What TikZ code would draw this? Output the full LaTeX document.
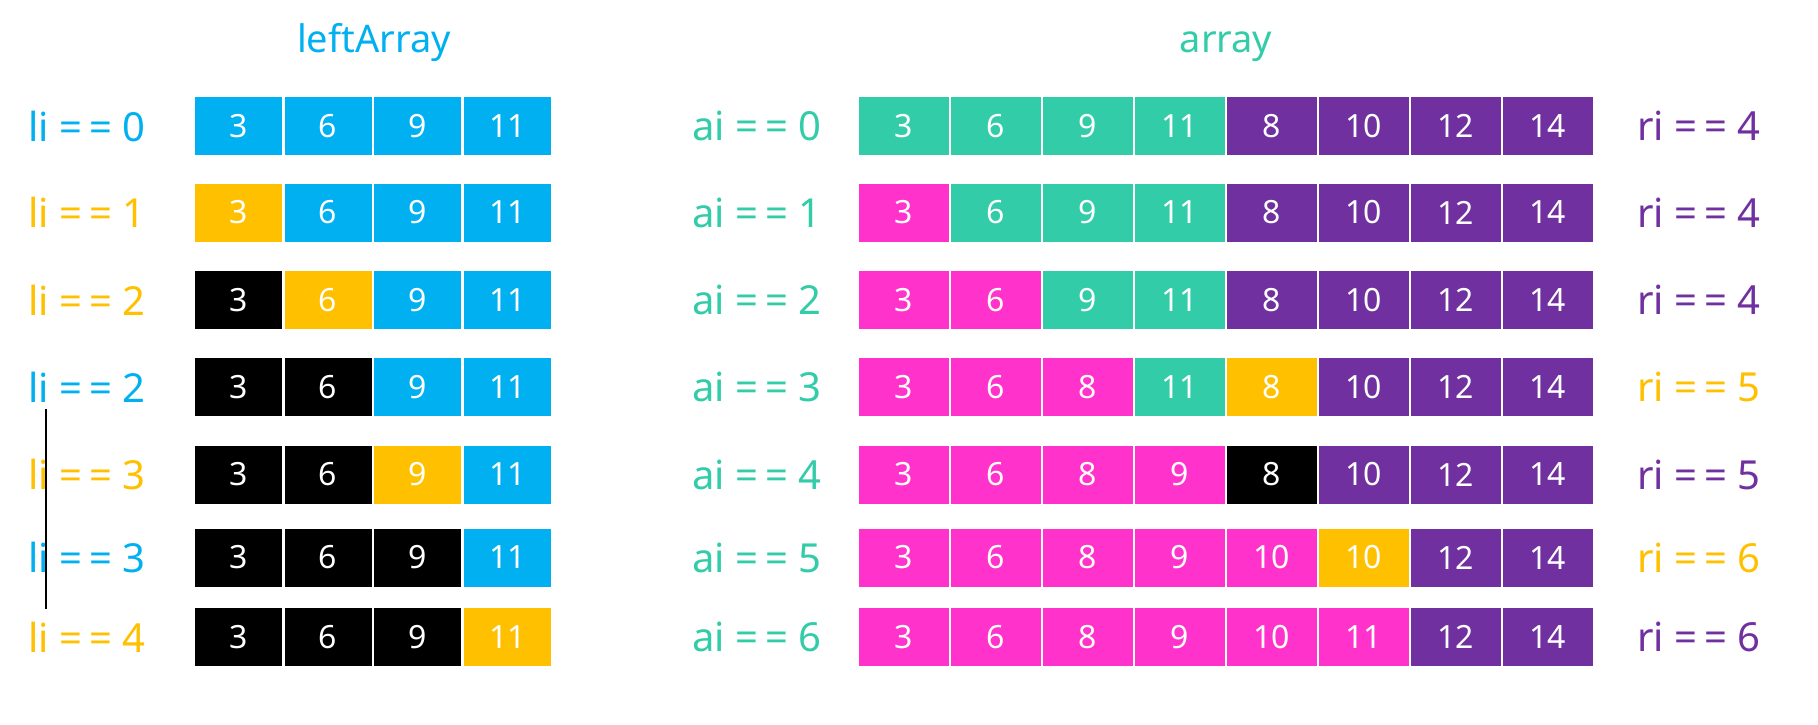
\documentclass[tikz,border=0pt]{standalone}
\usepackage{fontspec}
\setmainfont{Noto Sans}
\definecolor{cblue}{HTML}{00B0F0}
\definecolor{cgold}{HTML}{FFC000}
\definecolor{cteal}{HTML}{33CCA8}
\definecolor{cmag}{HTML}{FF33CC}
\definecolor{cpur}{HTML}{7030A0}
\definecolor{cblk}{HTML}{000000}
\tikzset{
  cellL/.style={minimum width=87pt, minimum height=58pt, inner sep=0pt, text=white, font=\fontsize{32}{32}\selectfont},
  cellR/.style={minimum width=89.5pt, minimum height=58pt, inner sep=0pt, text=white, font=\fontsize{32}{32}\selectfont},
  lab/.style={inner sep=0pt, anchor=west, font=\fontsize{40}{40}\selectfont},
  ttl/.style={inner sep=0pt, anchor=base, font=\fontsize{38}{38}\selectfont},
}
\newcommand\myeq{=\kern7pt=}
\newcommand\mkLrow[3]{%
  \foreach \v/\col [count=\i from 0] in {#3}{%
    \node[cellL, fill=\col] (L#1-\i) at ({238.5+89.6*\i},#2) {\v};}}
\newcommand\mkRrow[3]{%
  \foreach \v/\col [count=\i from 0] in {#3}{%
    \node[cellR, fill=\col] (R#1-\i) at ({903.75+92*\i},#2) {\v};}}
\begin{document}
\begin{tikzpicture}[x=1pt,y=-1pt]
\useasboundingbox (0,0) rectangle (1818,724);
\fill[white] (0,0) rectangle (1818,724);
% titles
\node[ttl, text=cblue] (tleft) at (374,52) {leftArray};
\node[ttl, text=cteal] (tright) at (1226,52) {array};
% left array
\mkLrow{0}{126}{3/cblue,6/cblue,9/cblue,11/cblue}
\mkLrow{1}{212.5}{3/cgold,6/cblue,9/cblue,11/cblue}
\mkLrow{2}{300}{3/cblk,6/cgold,9/cblue,11/cblue}
\mkLrow{3}{387}{3/cblk,6/cblk,9/cblue,11/cblue}
\mkLrow{4}{474.5}{3/cblk,6/cblk,9/cgold,11/cblue}
\mkLrow{5}{557.5}{3/cblk,6/cblk,9/cblk,11/cblue}
\mkLrow{6}{637}{3/cblk,6/cblk,9/cblk,11/cgold}
\node[lab, text=cblue] (LL0) at (28,126) {li \myeq{} 0};
\node[lab, text=cgold] (LL1) at (28,212.5) {li \myeq{} 1};
\node[lab, text=cgold] (LL2) at (28,300) {li \myeq{} 2};
\node[lab, text=cblue] (LL3) at (28,387) {li \myeq{} 2};
\node[lab, text=cgold] (LL4) at (28,474.5) {li \myeq{} 3};
\node[lab, text=cblue] (LL5) at (28,557.5) {li \myeq{} 3};
\node[lab, text=cgold] (LL6) at (28,637) {li \myeq{} 4};
\coordinate (vt) at (46,409);
\coordinate (vb) at (46,609);
\draw[line width=2pt] (vt) -- (vb);
% right array
\mkRrow{0}{126}{3/cteal,6/cteal,9/cteal,11/cteal,8/cpur,10/cpur,12/cpur,14/cpur}
\mkRrow{1}{212.5}{3/cmag,6/cteal,9/cteal,11/cteal,8/cpur,10/cpur,12/cpur,14/cpur}
\mkRrow{2}{300}{3/cmag,6/cmag,9/cteal,11/cteal,8/cpur,10/cpur,12/cpur,14/cpur}
\mkRrow{3}{387}{3/cmag,6/cmag,8/cmag,11/cteal,8/cgold,10/cpur,12/cpur,14/cpur}
\mkRrow{4}{474.5}{3/cmag,6/cmag,8/cmag,9/cmag,8/cblk,10/cpur,12/cpur,14/cpur}
\mkRrow{5}{557.5}{3/cmag,6/cmag,8/cmag,9/cmag,10/cmag,10/cgold,12/cpur,14/cpur}
\mkRrow{6}{637}{3/cmag,6/cmag,8/cmag,9/cmag,10/cmag,11/cmag,12/cpur,14/cpur}
\foreach \r/\y/\t in {0/126/0,1/212.5/1,2/300/2,3/387/3,4/474.5/4,5/557.5/5,6/637/6}{%
  \node[lab, text=cteal] (AL\r) at (692,\y) {ai \myeq{} \t};}
\node[lab, text=cpur] (RL0) at (1637,126) {ri \myeq{} 4};
\node[lab, text=cpur] (RL1) at (1637,212.5) {ri \myeq{} 4};
\node[lab, text=cpur] (RL2) at (1637,300) {ri \myeq{} 4};
\node[lab, text=cgold] (RL3) at (1637,387) {ri \myeq{} 5};
\node[lab, text=cpur] (RL4) at (1637,474.5) {ri \myeq{} 5};
\node[lab, text=cgold] (RL5) at (1637,557.5) {ri \myeq{} 6};
\node[lab, text=cpur] (RL6) at (1637,637) {ri \myeq{} 6};
\end{tikzpicture}
\end{document}
